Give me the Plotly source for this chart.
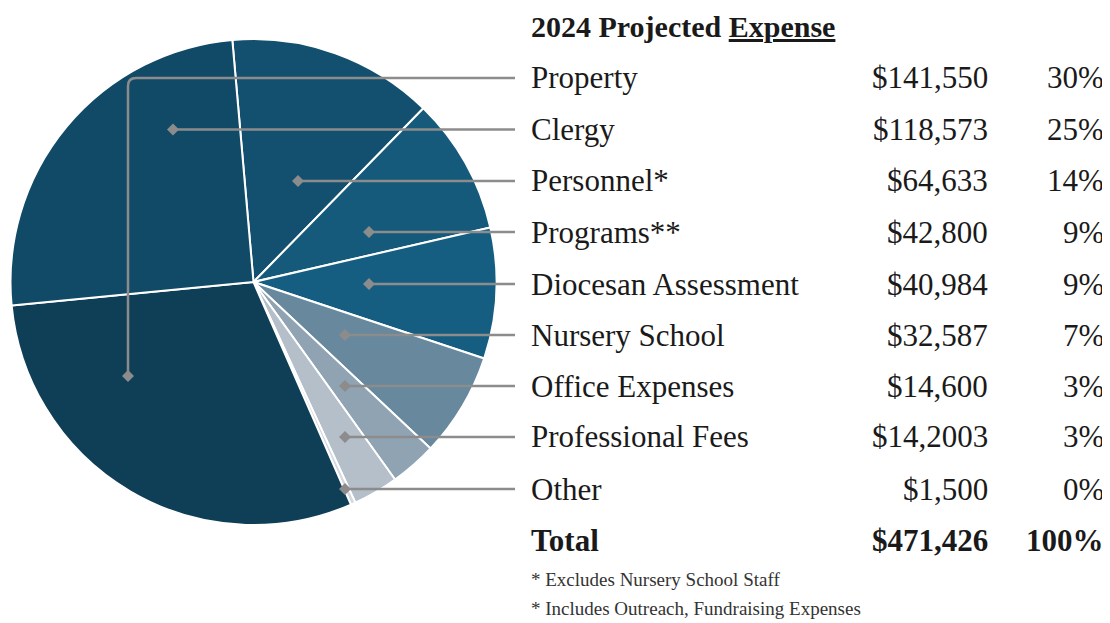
import plotly.graph_objects as go

# ---- data ----
categories = ["Property", "Clergy", "Personnel*", "Programs**", "Diocesan Assessment",
              "Nursery School", "Office Expenses", "Professional Fees", "Other"]
amounts = [141550, 118573, 64633, 42800, 40984, 32587, 14600, 14200, 1500]
amount_labels = ["$141,550", "$118,573", "$64,633", "$42,800", "$40,984",
                 "$32,587", "$14,600", "$14,2003", "$1,500"]
pct_labels = ["30%", "25%", "14%", "9%", "9%", "7%", "3%", "3%", "0%"]
total_label = "$471,426"
total_pct = "100%"
title_text = "2024 Projected <u>Expense</u>"
footnotes = ["* Excludes Nursery School Staff", "* Includes Outreach, Fundraising Expenses"]

colors = {
    "Property": "#0f3e57",
    "Clergy": "#114a67",
    "Personnel*": "#13506f",
    "Programs**": "#155a7b",
    "Diocesan Assessment": "#165e81",
    "Nursery School": "#67889d",
    "Office Expenses": "#8fa3b3",
    "Professional Fees": "#b4bfc9",
    "Other": "#d3d9de",
}

# pie drawing order (clockwise, starting just left of 12 o'clock)
pie_order = ["Personnel*", "Programs**", "Diocesan Assessment", "Nursery School",
             "Office Expenses", "Professional Fees", "Other", "Property", "Clergy"]

# page body has an 8px margin; work in window pixels and convert
OFF = 8
W, H = 1110 - OFF, 623 - OFF


def px(x):
    return (x - OFF) / W


def py(y):
    return 1 - (y - OFF) / H


vals = [amounts[categories.index(c)] for c in pie_order]
fig = go.Figure(go.Pie(
    labels=pie_order, values=vals, sort=False, direction="clockwise", rotation=-5,
    marker=dict(colors=[colors[c] for c in pie_order], line=dict(color="white", width=2)),
    textinfo="none", hoverinfo="label+value+percent", showlegend=False,
    domain=dict(x=[px(10), px(497)], y=[py(525), py(39)]),
))

FONT = "Liberation Serif, Times New Roman, serif"
TXT = "#1a1a1a"
LINE = "#8c8c8c"
ROWSZ = 31

row_y = [78, 129.5, 181, 232, 284, 335, 386, 437, 489]
total_y = 540
label_x, amount_x, pct_x = 529, 990, 1106
line_end = 515
# x of the leader-line dot for each row (Property uses an elbow)
dot_x = [128, 173, 298, 369, 369, 345, 345, 345, 345]
prop_dot_y = 376

ann = []
ann.append(dict(x=px(label_x), y=py(26), text="<b>" + title_text + "</b>", showarrow=False,
                xanchor="left", yanchor="middle", font=dict(family=FONT, size=30, color=TXT)))
for i, c in enumerate(categories):
    y = row_y[i]
    ann.append(dict(x=px(label_x), y=py(y), text=c, showarrow=False, xanchor="left",
                    yanchor="middle", font=dict(family=FONT, size=ROWSZ, color=TXT)))
    ann.append(dict(x=px(amount_x), y=py(y), text=amount_labels[i], showarrow=False,
                    xanchor="right", yanchor="middle", font=dict(family=FONT, size=ROWSZ, color=TXT)))
    ann.append(dict(x=px(pct_x), y=py(y), text=pct_labels[i], showarrow=False,
                    xanchor="right", yanchor="middle", font=dict(family=FONT, size=ROWSZ, color=TXT)))
ann.append(dict(x=px(label_x), y=py(total_y), text="<b>Total</b>", showarrow=False,
                xanchor="left", yanchor="middle", font=dict(family=FONT, size=ROWSZ, color=TXT)))
ann.append(dict(x=px(amount_x), y=py(total_y), text="<b>" + total_label + "</b>", showarrow=False,
                xanchor="right", yanchor="middle", font=dict(family=FONT, size=ROWSZ, color=TXT)))
ann.append(dict(x=px(pct_x), y=py(total_y), text="<b>" + total_pct + "</b>", showarrow=False,
                xanchor="right", yanchor="middle", font=dict(family=FONT, size=ROWSZ, color=TXT)))
for j, f in enumerate(footnotes):
    ann.append(dict(x=px(label_x), y=py(579 + j * 29), text=f, showarrow=False, xanchor="left",
                    yanchor="middle", font=dict(family=FONT, size=19, color="#333333")))

shapes = []


def P(x, y):
    return f"{px(x):.6f},{py(y):.6f}"


def diamond(x, y, r=6):
    return dict(type="path", xref="paper", yref="paper",
                path=f"M {P(x, y - r)} L {P(x + r, y)} L {P(x, y + r)} L {P(x - r, y)} Z",
                fillcolor=LINE, line=dict(width=0), layer="above")


for i, c in enumerate(categories):
    y = row_y[i]
    if i == 0:
        x0 = dot_x[0]
        rr = 8
        path = (f"M {P(line_end, y)} L {P(x0 + rr, y)} Q {P(x0, y)} {P(x0, y + rr)} "
                f"L {P(x0, prop_dot_y)}")
        shapes.append(dict(type="path", xref="paper", yref="paper", path=path,
                           line=dict(color=LINE, width=2.5), layer="above"))
        shapes.append(diamond(x0, prop_dot_y))
    else:
        shapes.append(dict(type="line", xref="paper", yref="paper", x0=px(dot_x[i]), y0=py(y),
                           x1=px(line_end), y1=py(y), line=dict(color=LINE, width=2.5), layer="above"))
        shapes.append(diamond(dot_x[i], y))

fig.update_layout(
    width=W, height=H, margin=dict(l=0, r=0, t=0, b=0),
    paper_bgcolor="white", plot_bgcolor="white",
    annotations=ann, shapes=shapes,
)

fig.write_html("out.html")
